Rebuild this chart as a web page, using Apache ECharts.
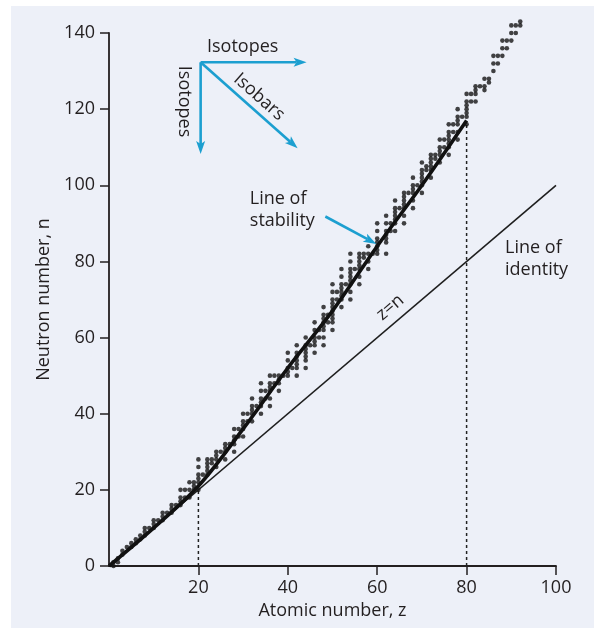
<!DOCTYPE html>
<html><head><meta charset="utf-8">
<script src="https://cdn.jsdelivr.net/npm/echarts@6/dist/echarts.min.js"></script>
<style>html,body{margin:0;padding:0;background:#fff}#c{width:594px;height:629px}</style>
</head><body><div id="c"></div>
<script>
// ---- Data ----
const xTicks = [20, 40, 60, 80, 100];
const yTicks = [0, 20, 40, 60, 80, 100, 120, 140];

// stable / long-lived nuclides: proton number and its neutron numbers
const nuclideZ = [1,2,3,4,5,6,7,8,9,10,11,12,13,14,15,16,17,18,19,20,
  21,22,23,24,25,26,27,28,29,30,31,32,33,34,35,36,37,38,39,40,
  41,42,44,45,46,47,48,49,50,51,52,53,54,55,56,57,58,59,60,
  62,63,64,65,66,67,68,69,70,71,72,73,74,75,76,77,78,79,80,
  81,82,83,84,85,86,87,88,89,90,91,92];
const nuclideN = [
  [0,1],[1,2],[3,4],[5],[5,6],[6,7],[7,8],[8,9,10],[10],[10,11,12],
  [12],[12,13,14],[14],[14,15,16],[16],[16,17,18,20],[18,20],[18,20,22],[20,21,22],[20,22,23,24,26,28],
  [24],[24,25,26,27,28],[27,28],[26,28,29,30],[30],[28,30,31,32],[32],[30,32,33,34,36],[34,36],[34,36,37,38,40],
  [38,40],[38,40,41,42,44],[42],[40,42,43,44,46,48],[44,46],[42,44,46,47,48,50],[48,50],[46,48,49,50],[50],[50,51,52,54,56],
  [52],[50,52,53,54,55,56,58],[52,54,55,56,57,58,60],[58],[56,58,59,60,62,64],[60,62],[58,60,62,63,64,65,66,68],[64,66],[62,64,65,66,67,68,69,70,72,74],[70,72],
  [68,70,71,72,73,74,76,78],[74],[70,72,74,75,76,77,78,80,82],[78],[74,76,78,79,80,81,82],[81,82],[78,80,82,84],[82],[82,83,84,85,86,88,90],
  [82,85,86,87,88,90,92],[88,90],[88,90,91,92,93,94,96],[94],[90,92,94,95,96,97,98],[98],[94,96,98,99,100,102],[100],[98,100,101,102,103,104,106],[104,105],
  [102,104,105,106,107,108],[107,108],[106,108,109,110,112],[110,112],[108,110,111,112,113,114,116],[114,116],[112,114,116,117,118,120],[118],[116,118,119,120,121,122,124],
  [122,124],[122,124,125,126],[126],[125,126,128],[127,128],[130,132,134],[132,134],[134,136,138],[136,138],[138,140,142],[140,142],[142,143]
];

// line of stability (thick curve)
const stabilityZ = [0, 10, 20, 30, 40, 50, 60, 70, 80];
const stabilityN = [0, 10, 21, 36, 52, 67, 84, 100, 117];

// line of identity z = n
const identityZ = [0, 100];
const identityN = [0, 100];

// dashed guide lines
const guideZ = [20, 80];
const guideTopN = [21, 116];

// ---- Build ----
const nuclides = [];
nuclideZ.forEach((z, i) => nuclideN[i].forEach(n => nuclides.push([z, n])));
const stability = stabilityZ.map((z, i) => [z, stabilityN[i]]);
const identity = identityZ.map((z, i) => [z, identityN[i]]);

const INK = '#231f20';
const BLUE = '#1c9fd0';
const FONT = '"Open Sans", "Noto Sans", sans-serif';

const chart = echarts.init(document.getElementById('c'), null, {renderer: 'canvas'});

const series = [
  { type: 'line', data: identity, symbol: 'none', lineStyle: {color: '#1e1e1e', width: 1.6}, z: 2, silent: true },
  { type: 'scatter', data: nuclides, symbol: 'circle', symbolSize: 4.6, clip: false, itemStyle: {color: '#141414'}, z: 3, silent: true },
  { type: 'line', data: stability, symbol: 'none', smooth: 0.35, lineStyle: {color: '#111', width: 3.6}, z: 4, silent: true }
];
guideZ.forEach((z, i) => series.push({
  type: 'line', data: [[z, 0], [z, guideTopN[i]]], symbol: 'none',
  lineStyle: {color: '#222', width: 1.5, type: [3, 3]}, z: 2, silent: true
}));

chart.setOption({
  animation: false,
  backgroundColor: '#ffffff',
  textStyle: {fontFamily: FONT},
  grid: {left: 109, right: 38, top: 33, bottom: 63, containLabel: false},
  xAxis: {
    type: 'value', min: 0, max: 100, interval: 20,
    name: 'Atomic number, z', nameLocation: 'middle', nameGap: 30,
    nameTextStyle: {fontSize: 18, color: INK, fontFamily: FONT},
    axisLine: {onZero: false, lineStyle: {color: INK, width: 1.8}},
    axisTick: {customValues: xTicks, length: 9, lineStyle: {color: INK, width: 1.5}},
    axisLabel: {customValues: xTicks, fontSize: 18, color: INK, margin: 13, fontFamily: FONT},
    splitLine: {show: false}
  },
  yAxis: {
    type: 'value', min: 0, max: 140, interval: 20,
    name: 'Neutron number, n', nameLocation: 'middle', nameGap: 56,
    nameTextStyle: {fontSize: 18, color: INK, fontFamily: FONT},
    axisLine: {onZero: false, lineStyle: {color: INK, width: 1.8}},
    axisTick: {customValues: yTicks, length: 9, lineStyle: {color: INK, width: 1.5}},
    axisLabel: {customValues: yTicks, fontSize: 18, color: INK, margin: 14, fontFamily: FONT},
    splitLine: {show: false}
  },
  series: series
});

// ---- Annotations, placed through the chart's own coordinate system ----
const px = p => chart.convertToPixel({gridIndex: 0}, p);

function arrow(from, to) {
  const a = px(from), b = px(to);
  const dx = b[0] - a[0], dy = b[1] - a[1], L = Math.hypot(dx, dy);
  const ux = dx / L, uy = dy / L, head = 13, hw = 4.5;
  const bx = b[0] - ux * head, by = b[1] - uy * head;
  const nx = -uy, ny = ux;
  return [
    {type: 'line', shape: {x1: a[0], y1: a[1], x2: bx + ux * 3, y2: by + uy * 3},
     style: {stroke: BLUE, lineWidth: 2.6}, z: 10, silent: true},
    {type: 'polygon', shape: {points: [[b[0], b[1]], [bx + nx * hw, by + ny * hw], [bx + ux * 3, by + uy * 3], [bx - nx * hw, by - ny * hw]]},
     style: {fill: BLUE}, z: 10, silent: true}
  ];
}
function label(text, at, opts) {
  const p = px(at);
  opts = opts || {};
  return {type: 'text', x: p[0], y: p[1], rotation: opts.rotation || 0, z: 11, silent: true,
    style: {text: text, fill: INK, font: (opts.size || 18) + 'px ' + FONT,
      align: opts.align || 'center', verticalAlign: 'middle', lineHeight: opts.lineHeight || 22}};
}

const origin = [20.5, 132.3];
const graphics = [
  {type: 'rect', shape: {x: 11, y: 6, width: 583, height: 622}, style: {fill: '#edf0f8'}, z: -10, silent: true},
  ...arrow(origin, [44.2, 132.3]),
  ...arrow(origin, [20.5, 108.2]),
  ...arrow(origin, [42.2, 109.7]),
  ...arrow([48.4, 91.8], [59.8, 84.6]),
  label('Isotopes', [29.9, 136.3]),
  label('Isotopes', [16.7, 122.0], {rotation: -Math.PI / 2}),
  label('Isobars', [33.6, 123.2], {rotation: -0.726}),
  label('Line of\nstability', [31.5, 93.6], {align: 'left'}),
  label('Line of\nidentity', [88.6, 80.7], {align: 'left'}),
  label('z=n', [62.9, 67.9], {rotation: 0.705})
];
chart.setOption({graphic: graphics});
</script>
</body></html>
